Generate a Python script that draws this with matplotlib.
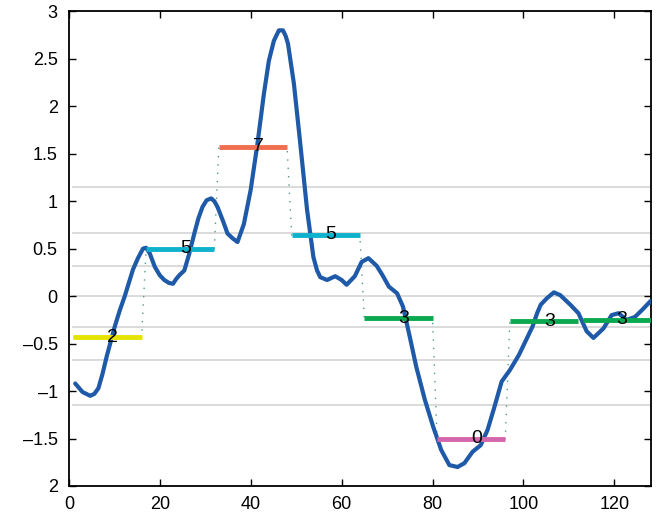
import numpy as np
import matplotlib
matplotlib.use('Agg')
import matplotlib.pyplot as plt

plt.rcParams['font.family'] = ['Liberation Sans', 'DejaVu Sans']

# blue series
series_x = [1.4, 3, 4.7, 5.6, 6.5, 7.4, 8.3, 9.2, 10.1, 11.2, 12.3, 13.2, 14.1, 15.2,
            16.3, 17.0, 17.8, 18.9, 20, 21, 22, 22.9, 23.6, 24.3, 25.4, 26.5, 27.6,
            28.5, 29.4, 30.3, 31.3, 32, 32.7, 34, 34.9, 36, 37.1, 38.5, 40, 41.5,
            42.9, 44, 45.1, 46.2, 47.1, 47.7, 48.2, 49.5, 50.9, 52.4, 53.8, 54.6,
            55.3, 56.8, 58.6, 60, 61.1, 62.9, 64.4, 65.9, 67.7, 69, 70.4, 72.2,
            73.5, 75, 76.4, 78.3, 80.1, 81.9, 83.7, 85.5, 87, 88.8, 90.6, 92.1,
            93.6, 95.2, 97, 99, 100.5, 102, 103, 103.8, 105.2, 106.7, 108.1, 110.3,
            112.1, 113.9, 115.4, 117.6, 119.4, 120.9, 122.7, 124.5, 126, 128]
series_y = [-0.92, -1.01, -1.05, -1.03, -0.97, -0.82, -0.64, -0.48, -0.32, -0.15, 0.0,
            0.14, 0.28, 0.40, 0.50, 0.51, 0.45, 0.31, 0.22, 0.17, 0.14, 0.13, 0.18,
            0.22, 0.27, 0.45, 0.66, 0.82, 0.94, 1.01, 1.03, 1.00, 0.94, 0.78, 0.66,
            0.61, 0.57, 0.76, 1.12, 1.61, 2.13, 2.48, 2.69, 2.80, 2.80, 2.74, 2.66,
            2.24, 1.61, 0.91, 0.41, 0.27, 0.20, 0.17, 0.21, 0.17, 0.12, 0.21, 0.36,
            0.40, 0.32, 0.22, 0.10, 0.03, -0.11, -0.43, -0.74, -1.09, -1.37, -1.62,
            -1.78, -1.80, -1.76, -1.64, -1.57, -1.41, -1.17, -0.90, -0.78, -0.62,
            -0.47, -0.32, -0.18, -0.09, -0.02, 0.04, 0.01, -0.09, -0.18, -0.37,
            -0.44, -0.34, -0.20, -0.18, -0.25, -0.22, -0.15, -0.05]

# segment means and symbols
seg_start = [1, 17, 33, 49, 65, 81, 97, 113]
seg_end = [16, 32, 48, 64, 80, 96, 112, 128]
seg_value = [-0.435, 0.50, 1.575, 0.645, -0.235, -1.505, -0.267, -0.25]
seg_symbol = [2, 5, 7, 5, 3, 0, 3, 3]

breakpoints = [-1.15, -0.67, -0.32, 0, 0.32, 0.67, 1.15]

symbol_colors = {0: '#d466ac', 2: '#e6e200', 3: '#0aa84f', 5: '#0fb2cc', 7: '#f26e50'}

fig = plt.figure(figsize=(6.62, 5.17), dpi=100)
ax = fig.add_axes([0.104, 0.06, 0.879, 0.918])

for b in breakpoints:
    ax.plot([1, 128], [b, b], color='#d4d4d4', lw=1.2, zorder=1)

# dotted staircase joining the segments
stair_x = []
stair_y = []
for s, e, v in zip(seg_start, seg_end, seg_value):
    stair_x += [s, e]
    stair_y += [v, v]
ax.plot(stair_x, stair_y, color='#4f9a8c', lw=1.0, dashes=(1, 5), zorder=2)

ax.plot(series_x, series_y, color='#1f5aa8', lw=3, zorder=3,
        solid_capstyle='round', solid_joinstyle='round')

for s, e, v, sym in zip(seg_start, seg_end, seg_value, seg_symbol):
    ax.plot([s, e], [v, v], color=symbol_colors[sym], lw=3.5, zorder=4,
            solid_capstyle='butt')
    ax.text((s + e) / 2, v, str(sym), ha='left', va='center', fontsize=14, zorder=5)

ax.set_xlim(0, 128)
ax.set_ylim(-2, 3)
ax.set_xticks([0, 20, 40, 60, 80, 100, 120])
ax.set_yticks([3, 2.5, 2, 1.5, 1, 0.5, 0, -0.5, -1, -1.5, -2])
ax.set_yticklabels(['3', '2.5', '2', '1.5', '1', '0.5', '0',
                    '\u20130.5', '\u20131', '\u20131.5', '2'])
ax.tick_params(direction='in', length=5, width=1, top=True, right=True,
               labelsize=13)
ax.tick_params(axis='x', pad=7)
ax.tick_params(axis='y', pad=8)
for sp in ax.spines.values():
    sp.set_linewidth(1.3)

plt.savefig('out.png', dpi=100)
